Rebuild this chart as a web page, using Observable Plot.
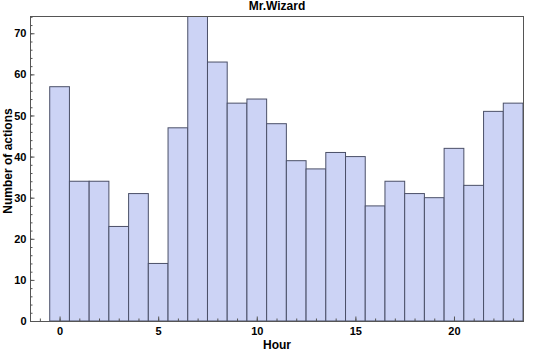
<!DOCTYPE html>
<html>
<head>
<meta charset="utf-8">
<script src="https://cdn.jsdelivr.net/npm/d3@7"></script>
<script src="https://cdn.jsdelivr.net/npm/@observablehq/plot@0.6"></script>
<style>
  html, body { margin: 0; padding: 0; background: #fff; }
  svg { font-family: "Liberation Sans", Arial, sans-serif; }
</style>
</head>
<body>
<div id="chart"></div>
<script>
const title = "Mr.Wizard";
const xLabel = "Hour";
const yLabel = "Number of actions";
const hours = [0,1,2,3,4,5,6,7,8,9,10,11,12,13,14,15,16,17,18,19,20,21,22,23];
const counts = [57,34,34,23,31,14,47,76,63,53,54,48,39,37,41,40,28,34,31,30,42,33,51,53];
const xTicks = [0,5,10,15,20];
const yTicks = [0,10,20,30,40,50,60,70];

const data = hours.map((h, i) => ({hour: h, count: counts[i]}));
const xMinor = d3.range(-1, 24);
const yMinor = d3.range(0, 75, 2);

const plot = Plot.plot({
  width: 540,
  height: 352,
  marginLeft: 30,
  marginRight: 17,
  marginTop: 16,
  marginBottom: 31,
  style: {fontFamily: "'Liberation Sans', Arial, sans-serif", fontSize: "11px", fontWeight: "bold", color: "#000"},
  x: {domain: [-1.5, 23.5]},
  y: {domain: [0, 74.2]},
  marks: [
    Plot.rectY(data, {x1: d => d.hour - 0.5, x2: d => d.hour + 0.5, y: "count", fill: "#ccd3f5", stroke: "#4b5068", strokeWidth: 1, clip: true}),
    Plot.frame({stroke: "#555", strokeWidth: 1}),
    Plot.axisY(yMinor, {tickSize: -2.5, text: null, label: null, stroke: "#555"}),
    Plot.axisY(yTicks, {tickSize: -4.5, text: null, label: null, stroke: "#555"}),
    Plot.axisY(yTicks, {tickSize: 0, tickPadding: 4, label: null, fontWeight: "bold", fill: "#000"}),
    Plot.axisX(xMinor, {tickSize: -2.5, text: null, label: null, stroke: "#555"}),
    Plot.axisX(xTicks, {tickSize: -4.5, text: null, label: null, stroke: "#555"}),
    Plot.axisX(xTicks, {tickSize: 0, tickPadding: 6, label: null, fontWeight: "bold", fill: "#000"}),
    Plot.text([title], {frameAnchor: "top", lineAnchor: "middle", textAnchor: "middle", dy: -10, fontWeight: "bold", fontSize: 12, fill: "#000"}),
    Plot.text([xLabel], {frameAnchor: "bottom", lineAnchor: "middle", textAnchor: "middle", dy: 24, fontWeight: "bold", fontSize: 12, fill: "#000"}),
    Plot.text([yLabel], {frameAnchor: "left", lineAnchor: "middle", textAnchor: "middle", dx: -22, dy: -8, rotate: -90, fontWeight: "bold", fontSize: 12, fill: "#000"})
  ]
});
document.getElementById("chart").appendChild(plot);
</script>
</body>
</html>
